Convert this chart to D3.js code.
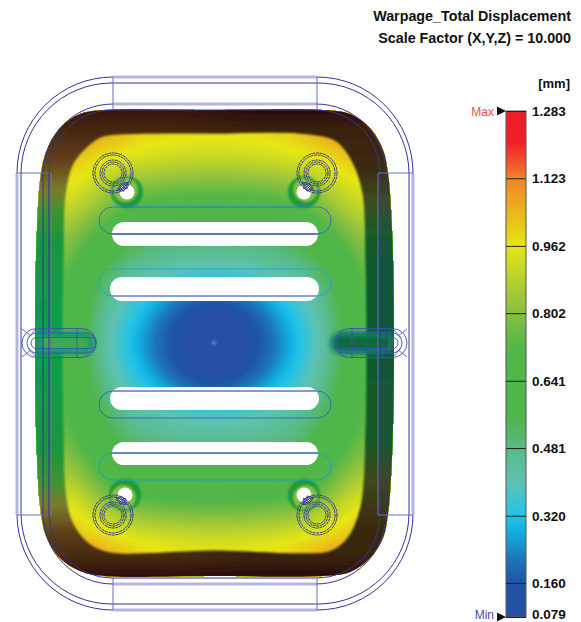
<!DOCTYPE html>
<html>
<head>
<meta charset="utf-8">
<script src="https://cdn.jsdelivr.net/npm/d3@7"></script>
<style>
body { margin: 0; background: #fff; }
text { font-family: "Liberation Sans", Arial, sans-serif; }
</style>
</head>
<body>
<svg id="graph"></svg>
<script>
// legend values
var tickValues = [1.283, 1.123, 0.962, 0.802, 0.641, 0.481, 0.320, 0.160, 0.079];
var colorValues = [1.283, 1.21, 1.15, 1.123, 1.04, 0.962, 0.88, 0.802, 0.72, 0.641, 0.55, 0.481, 0.40, 0.32, 0.28, 0.22, 0.16, 0.079];
var colorNames = ["#ee1c25", "#ee2028", "#f0602a", "#f08524", "#ebb71c", "#e6e614", "#b5d030", "#86bf40", "#52b748", "#4fb748", "#50b64c", "#58ba85", "#5ec2b4", "#22c3e8", "#10aee0", "#1d78bb", "#1f55a6", "#2a4ea4"];
var titleLines = ["Warpage_Total Displacement", "Scale Factor (X,Y,Z) = 10.000"];

var fieldRows = [
 [1.10,1.10,1.12,1.08,1.03,1.00,0.99,0.98,0.98,0.98,0.99,1.00,1.03,1.09,1.12,1.12,1.10],
 [1.10,1.10,1.12,1.08,1.03,1.00,0.99,0.98,0.98,0.98,0.99,1.00,1.03,1.09,1.12,1.12,1.10],
 [1.05,1.06,1.03,1.00,0.98,0.96,0.95,0.94,0.94,0.94,0.95,0.96,0.98,1.00,1.03,1.06,1.05],
 [0.95,1.00,0.99,0.93,0.90,0.88,0.87,0.86,0.86,0.86,0.87,0.88,0.90,0.94,0.99,1.00,0.95],
 [0.88,0.97,0.94,0.87,0.81,0.78,0.76,0.75,0.75,0.75,0.76,0.78,0.81,0.87,0.93,0.97,0.88],
 [0.80,0.92,0.88,0.79,0.72,0.67,0.65,0.64,0.64,0.64,0.65,0.67,0.72,0.79,0.88,0.92,0.80],
 [0.75,0.86,0.80,0.70,0.62,0.58,0.56,0.55,0.55,0.55,0.56,0.58,0.62,0.70,0.80,0.86,0.75],
 [0.72,0.83,0.73,0.61,0.53,0.49,0.47,0.46,0.46,0.46,0.47,0.49,0.53,0.61,0.73,0.83,0.72],
 [0.70,0.80,0.67,0.55,0.46,0.43,0.41,0.40,0.40,0.40,0.41,0.43,0.46,0.55,0.67,0.80,0.70],
 [0.68,0.78,0.63,0.50,0.41,0.35,0.29,0.23,0.20,0.23,0.29,0.35,0.41,0.50,0.63,0.78,0.68],
 [0.66,0.76,0.60,0.47,0.37,0.29,0.20,0.13,0.10,0.13,0.20,0.29,0.37,0.47,0.60,0.76,0.66],
 [0.66,0.76,0.59,0.45,0.34,0.25,0.16,0.10,0.08,0.10,0.16,0.25,0.34,0.45,0.59,0.76,0.66],
 [0.66,0.76,0.59,0.45,0.34,0.25,0.16,0.10,0.08,0.10,0.16,0.25,0.34,0.45,0.59,0.76,0.66],
 [0.66,0.76,0.60,0.47,0.37,0.29,0.20,0.13,0.10,0.13,0.20,0.29,0.37,0.47,0.60,0.76,0.66],
 [0.68,0.78,0.63,0.50,0.41,0.35,0.29,0.23,0.20,0.23,0.29,0.35,0.41,0.50,0.63,0.78,0.68],
 [0.68,0.78,0.66,0.55,0.46,0.43,0.41,0.40,0.40,0.40,0.41,0.43,0.46,0.55,0.66,0.78,0.68],
 [0.70,0.80,0.70,0.59,0.50,0.47,0.45,0.44,0.44,0.44,0.45,0.47,0.50,0.59,0.70,0.80,0.70],
 [0.72,0.84,0.76,0.64,0.57,0.54,0.52,0.51,0.51,0.51,0.52,0.54,0.57,0.64,0.76,0.84,0.72],
 [0.78,0.88,0.83,0.71,0.64,0.62,0.60,0.59,0.59,0.59,0.60,0.62,0.64,0.71,0.83,0.88,0.78],
 [0.86,0.95,0.91,0.80,0.73,0.70,0.69,0.68,0.68,0.68,0.69,0.70,0.73,0.80,0.91,0.95,0.86],
 [0.95,1.00,0.97,0.90,0.85,0.82,0.81,0.80,0.80,0.80,0.81,0.82,0.85,0.90,0.97,1.00,0.95],
 [1.05,1.06,1.01,0.99,0.96,0.94,0.93,0.92,0.92,0.92,0.93,0.94,0.96,0.99,1.01,1.06,1.05],
 [1.10,1.10,1.12,1.08,1.03,1.00,0.98,0.97,0.97,0.97,0.98,1.00,1.03,1.08,1.12,1.10,1.10],
 [1.10,1.10,1.12,1.08,1.03,1.00,0.98,0.97,0.97,0.97,0.98,1.00,1.03,1.08,1.12,1.10,1.10]
];

// part geometry, model units from the min marker
var partOutline = [[-109,-233],[0,-233],[109,-233],[136,-229],[156,-215],[169,-193],[174,-170],[178,-113],[180,0],[178,113],[174,171],[169,195],[156,215],[136,229],[109,233],[0,233],[-109,233],[-134,228],[-154,215],[-167,195],[-173,171],[-177,113],[-179,0],[-177,-113],[-173,-170],[-167,-193],[-154,-215],[-134,-229]];
var plateauOutline = [[-94,-210],[0,-211],[86,-211],[123,-203],[139,-183],[150,-150],[153,-83],[154,0],[153,87],[148,164],[134,197],[116,210],[86,212],[0,209],[-94,212],[-112,209],[-129,199],[-144,177],[-150,147],[-152,87],[-153,0],[-152,-83],[-150,-148],[-143,-178],[-129,-196],[-114,-207]];
var slots = [[-102,-121,104,-97],[-104,-66,105,-42],[-104,44,105,67],[-102,99,104,122]];
var slotWires = [[-115,-136,117,-109,"#2a78bd"],[-115,-74,117,-47,"#25a6cf"],[-115,48,117,75,"#2a70b8"],[-115,110,117,137,"#1f9fc4"]];
var slotLines = [[-109,"#2d3295",1.2],[-47,"#8a8ad0",1.6],[48,"#8a8ad0",1.6],[110,"#3a40a5",1.2]];
var bosses = [[-101,-170],[103,-170],[-101,172],[103,172]];
var holes = [[-87,-151],[90,-151],[-89,152],[90,152]];
var bossRadii = [20,18,13,11,9];
var wireRects = [[-197,-266,199,267,96],[-193,-260,195,261,91],[-171,-239,172,241,70],[-165,-233,166,235,63]];
var lightBands = [[-101,-266,103,-266],[-101,267,103,267],[-197,-170,-197,172],[199,-170,199,172],[-101,-239,103,-239],[-101,241,103,241]];
var wireLines = [[-101,-266,-101,-233],[103,-266,103,-233],[-101,235,-101,267],[103,235,103,267],[-197,-170,-165,-170],[164,-170,199,-170],[-197,172,-165,172],[164,172,199,172],[-163,-170,-163,172],[164,-170,164,172]];
var pins = [
 {side:-1, tip:-119, end:-179, fill:"#3eaa52", halo:"#129a70", wire:[-192,-118], cross:-137},
 {side:1, tip:116, end:181, fill:"#0d6a3a", halo:"#0f7a60", wire:[121,193], cross:138}
];
var pinSpokes = [[-192,-183,-7,-14],[-192,-183,7,14],[-186,-178,-14,-5],[-186,-178,14,5],[193,184,-7,-14],[193,184,7,14],[187,179,-14,-5],[187,179,14,5]];

var leftRim = [[110,"#3a1408"],[130,"#46280f"],[160,"#62401a"],[190,"#7c7c2a"],[212,"#3c9530"],[245,"#14963e"],[343,"#10a04a"],[445,"#14963e"],[480,"#3c9530"],[505,"#7c7c2a"],[535,"#5c3c18"],[558,"#432a10"],[576,"#300e10"]];
var rightRim = [[110,"#2a0e06"],[130,"#3a220c"],[170,"#3a2c12"],[200,"#404d1c"],[228,"#1c5b28"],[262,"#0f5a30"],[343,"#0f5a30"],[440,"#165a28"],[480,"#404a18"],[530,"#3a2810"],[558,"#38240e"],[576,"#2a0a10"]];

var width = 581, height = 622;
var svg = d3.select("#graph").attr("width", width).attr("height", height);
var x = d3.scaleLinear().domain([-214, 367]).range([0, width]);
var y = d3.scaleLinear().domain([-343, 279]).range([0, height]);
var color = d3.scaleLinear().domain(colorValues).range(colorNames).clamp(true);
var WIRE = "#30359a";

var defs = svg.append("defs");
var loopLine = d3.line().x(d => x(d[0])).y(d => y(d[1])).curve(d3.curveCatmullRomClosed.alpha(0.5));
defs.append("clipPath").attr("id", "part").append("path").attr("d", loopLine(partOutline));
[["soft", 1.2], ["halo", 2.6]].forEach(function (f) {
    defs.append("filter").attr("id", f[0]).attr("x", "-30%").attr("y", "-30%").attr("width", "160%").attr("height", "160%")
        .append("feGaussianBlur").attr("stdDeviation", f[1]);
});
function rimGradient(id, stops) {
    var g = defs.append("linearGradient").attr("id", id).attr("gradientUnits", "userSpaceOnUse")
        .attr("x1", 0).attr("x2", 0).attr("y1", 110).attr("y2", 576);
    stops.forEach(function (s) {
        g.append("stop").attr("offset", (s[0] - 110) / 466).attr("stop-color", s[1]);
    });
}
rimGradient("rimLeft", leftRim);
rimGradient("rimRight", rightRim);
var fadeGrad = defs.append("linearGradient").attr("id", "fade").attr("gradientUnits", "userSpaceOnUse")
    .attr("x1", x(-40)).attr("x2", x(40)).attr("y1", 0).attr("y2", 0);
fadeGrad.append("stop").attr("offset", 0).attr("stop-color", "#000");
fadeGrad.append("stop").attr("offset", 1).attr("stop-color", "#fff");
defs.append("mask").attr("id", "rightSide").attr("maskUnits", "userSpaceOnUse")
    .attr("x", 0).attr("y", 0).attr("width", width).attr("height", height)
    .append("rect").attr("width", width).attr("height", height).attr("fill", "url(#fade)");

// smooth the read values onto a finer grid for the contour bands
var K = 5, nr = fieldRows.length, nc = fieldRows[0].length;
var byRow = fieldRows.map(function (r) {
    var f = d3.interpolateBasis(r);
    return d3.range((nc - 1) * K + 1).map(i => f(i / ((nc - 1) * K)));
});
var mw = byRow[0].length, mh = (nr - 1) * K + 1, grid = new Array(mw * mh);
d3.range(mw).forEach(function (i) {
    var f = d3.interpolateBasis(byRow.map(r => r[i]));
    d3.range(mh).forEach(function (j) { grid[j * mw + i] = f(j / (mh - 1)); });
});
var gx = d3.scaleLinear().domain([0.5, mw - 0.5]).range([x(-179), x(180)]);
var gy = d3.scaleLinear().domain([0.5, mh - 0.5]).range([y(-233), y(233)]);
var project = d3.geoPath(d3.geoTransform({ point: function (a, b) { this.stream.point(gx(a), gy(b)); } }));
var thresholds = d3.range(0.079, 1.283, 0.008);

var part = svg.append("g").attr("clip-path", "url(#part)");
part.append("rect").attr("x", x(-181)).attr("y", y(-235)).attr("width", x(182) - x(-181)).attr("height", y(235) - y(-235)).attr("fill", color(0.079));
part.selectAll("path.band")
    .data(d3.contours().size([mw, mh]).thresholds(thresholds)(grid))
    .enter().append("path").attr("class", "band")
    .attr("d", project)
    .attr("fill", d => color(d.value));

// min spot
part.append("circle").attr("cx", x(0)).attr("cy", y(0)).attr("r", 2.2).attr("fill", "#4f86c6").attr("filter", "url(#soft)");

// shaded rim
var ringPath = loopLine(partOutline) + loopLine(plateauOutline);
var rim = part.append("g").attr("filter", "url(#soft)");
rim.append("path").attr("d", ringPath).attr("fill-rule", "evenodd").attr("stroke", "url(#rimLeft)").attr("stroke-width", 3).attr("fill", "url(#rimLeft)");
rim.append("g").attr("mask", "url(#rightSide)")
    .append("path").attr("d", ringPath).attr("fill-rule", "evenodd").attr("stroke", "url(#rimRight)").attr("stroke-width", 3).attr("fill", "url(#rimRight)");

// side pins
pins.forEach(function (p) {
    var a = Math.min(p.tip, p.end), b = Math.max(p.tip, p.end);
    part.append("rect").attr("x", x(a)).attr("y", y(-11)).attr("width", x(b) - x(a)).attr("height", y(11) - y(-11))
        .attr("rx", 11).attr("fill", p.halo).attr("filter", "url(#halo)");
    part.append("rect").attr("x", x(a + 6)).attr("y", y(-6)).attr("width", x(b - 6) - x(a + 6)).attr("height", y(6) - y(-6))
        .attr("rx", 6).attr("fill", p.fill).attr("filter", "url(#soft)");
});

// boss rings and holes, the ring fades on the side facing the boss
holes.forEach(function (h, i) {
    var b = bosses[i], d = Math.hypot(b[0] - h[0], b[1] - h[1]);
    var ox = (b[0] - h[0]) / d * 3, oy = (b[1] - h[1]) / d * 3;
    svg.append("circle").attr("cx", x(h[0])).attr("cy", y(h[1])).attr("r", 16).attr("fill", "#1a9a3c").attr("filter", "url(#soft)");
    svg.append("circle").attr("cx", x(h[0] + ox)).attr("cy", y(h[1] + oy)).attr("r", 12.5).attr("fill", "#86c040").attr("filter", "url(#soft)");
    svg.append("circle").attr("cx", x(h[0])).attr("cy", y(h[1])).attr("r", 7.5).attr("fill", "#fff");
});

// slots
svg.selectAll("rect.slot").data(slots).enter().append("rect").attr("class", "slot")
    .attr("x", d => x(d[0])).attr("y", d => y(d[1]))
    .attr("width", d => x(d[2]) - x(d[0])).attr("height", d => y(d[3]) - y(d[1]))
    .attr("rx", 12).attr("fill", "#fff");

var wires = svg.append("g").attr("fill", "none");
wires.selectAll("rect.slotwire").data(slotWires).enter().append("rect").attr("class", "slotwire")
    .attr("x", d => x(d[0])).attr("y", d => y(d[1]))
    .attr("width", d => x(d[2]) - x(d[0])).attr("height", d => y(d[3]) - y(d[1]))
    .attr("rx", 13.5).attr("stroke", d => d[4]).attr("stroke-width", 1);
wires.selectAll("line.slotline").data(slotLines).enter().append("line").attr("class", "slotline")
    .attr("x1", x(-102)).attr("x2", x(104)).attr("y1", d => y(d[0])).attr("y2", d => y(d[0]))
    .attr("stroke", d => d[1]).attr("stroke-width", d => d[2]);

wires.selectAll("rect.wire").data(wireRects).enter().append("rect").attr("class", "wire")
    .attr("x", d => x(d[0])).attr("y", d => y(d[1]))
    .attr("width", d => x(d[2]) - x(d[0])).attr("height", d => y(d[3]) - y(d[1]))
    .attr("rx", d => d[4]).attr("stroke", WIRE).attr("stroke-width", 1);
wires.selectAll("line.band").data(lightBands).enter().append("line").attr("class", "band")
    .attr("x1", d => x(d[0])).attr("y1", d => y(d[1])).attr("x2", d => x(d[2])).attr("y2", d => y(d[3]))
    .attr("stroke", "#b6b6dc").attr("stroke-width", 3);
wires.selectAll("line.wire").data(wireLines).enter().append("line").attr("class", "wire")
    .attr("x1", d => x(d[0])).attr("y1", d => y(d[1])).attr("x2", d => x(d[2])).attr("y2", d => y(d[3]))
    .attr("stroke", "#6a6ebc").attr("stroke-width", 1);

bosses.forEach(function (b, i) {
    wires.selectAll(null).data(bossRadii).enter().append("circle")
        .attr("cx", x(b[0])).attr("cy", y(b[1])).attr("r", d => d)
        .attr("stroke", WIRE).attr("stroke-width", 1).attr("stroke-dasharray", "3 0.7");
    // little arcs showing through the hole
    var h = holes[i], ang = Math.atan2(b[0] - h[0], h[1] - b[1]);
    var arc = d3.arc().startAngle(ang - 0.8).endAngle(ang + 0.8);
    wires.selectAll(null).data([3.5, 5, 6.5, 8, 9.5]).enter().append("path")
        .attr("transform", "translate(" + x(h[0]) + "," + y(h[1]) + ")")
        .attr("d", d => arc({ innerRadius: d, outerRadius: d }))
        .attr("stroke", WIRE).attr("stroke-width", 0.7);
});

// pin wires
pins.forEach(function (p) {
    var w = p.wire, path = d3.path();
    [[14.5, 0], [10, 5], [5.5, 9]].forEach(function (s) {
        var a = x(w[0] + (p.side < 0 ? s[1] : 0)), b = x(w[1] - (p.side > 0 ? s[1] : 0));
        path.moveTo(a + s[0], y(-s[0]));
        path.lineTo(b - s[0], y(-s[0]));
        path.arcTo(b, y(-s[0]), b, y(0), s[0]);
        path.arcTo(b, y(s[0]), b - s[0], y(s[0]), s[0]);
        path.lineTo(a + s[0], y(s[0]));
        path.arcTo(a, y(s[0]), a, y(0), s[0]);
        path.arcTo(a, y(-s[0]), a + s[0], y(-s[0]), s[0]);
    });
    path.moveTo(x(p.cross), y(-14.5));
    path.lineTo(x(p.cross), y(14.5));
    wires.append("path").attr("d", path.toString()).attr("stroke", "#3a55b0").attr("stroke-width", 0.9);
});
wires.selectAll("line.spoke").data(pinSpokes).enter().append("line").attr("class", "spoke")
    .attr("x1", d => x(d[0])).attr("y1", d => y(d[3])).attr("x2", d => x(d[1])).attr("y2", d => y(d[2]))
    .attr("stroke", "#3a55b0").attr("stroke-width", 0.8);

// title
var title = svg.append("g").attr("font-size", 14.3).attr("font-weight", "bold").attr("fill", "#111").attr("text-anchor", "end");
title.selectAll("text").data(titleLines).enter().append("text")
    .attr("x", 571).attr("y", (d, i) => 21 + i * 22).text(d => d);

// color bar
var barX0 = 506, barX1 = 526;
var yBar = d3.scaleLinear().domain([0.079, 1.283]).range([617, 111]);
var grad = defs.append("linearGradient").attr("id", "barFill").attr("x1", 0).attr("x2", 0).attr("y1", 1).attr("y2", 0);
colorValues.slice().reverse().forEach(function (v) {
    grad.append("stop").attr("offset", (v - 0.079) / (1.283 - 0.079)).attr("stop-color", color(v));
});
svg.append("rect").attr("x", barX0).attr("y", yBar(1.283)).attr("width", barX1 - barX0)
    .attr("height", yBar(0.079) - yBar(1.283)).attr("fill", "url(#barFill)").attr("stroke", "#555").attr("stroke-width", 1);

var axis = d3.axisRight(yBar).tickValues(tickValues).tickFormat(d3.format(".3f"))
    .tickSizeInner(-(barX1 - barX0)).tickSizeOuter(0).tickPadding(6);
var gAxis = svg.append("g").attr("transform", "translate(" + barX1 + ",0)").call(axis);
gAxis.select(".domain").remove();
gAxis.selectAll("line").attr("stroke", "#222").attr("stroke-width", 1);
gAxis.selectAll("text").attr("font-family", "Liberation Sans").attr("font-size", 13.5).attr("font-weight", "bold").attr("fill", "#111");
// keep the bottom label inside the page
gAxis.selectAll("text").filter(d => d === 0.079).attr("y", -2.5);

svg.append("text").attr("x", 570).attr("y", 88).attr("text-anchor", "end").attr("font-size", 13).attr("font-weight", "bold").attr("fill", "#111").text("[mm]");

[["Max", 1.283, "#ee4a50"], ["Min", 0.079, "#4350a8"]].forEach(function (m) {
    var t = yBar(m[1]);
    svg.append("text").attr("x", 494).attr("y", Math.min(t + 4.5, 619)).attr("text-anchor", "end").attr("font-size", 12).attr("fill", m[2]).text(m[0]);
    svg.append("path").attr("d", d3.line()([[497, t - 4.5], [506, t], [497, t + 4.5]]) + "Z").attr("fill", "#111");
});
</script>
</body>
</html>
